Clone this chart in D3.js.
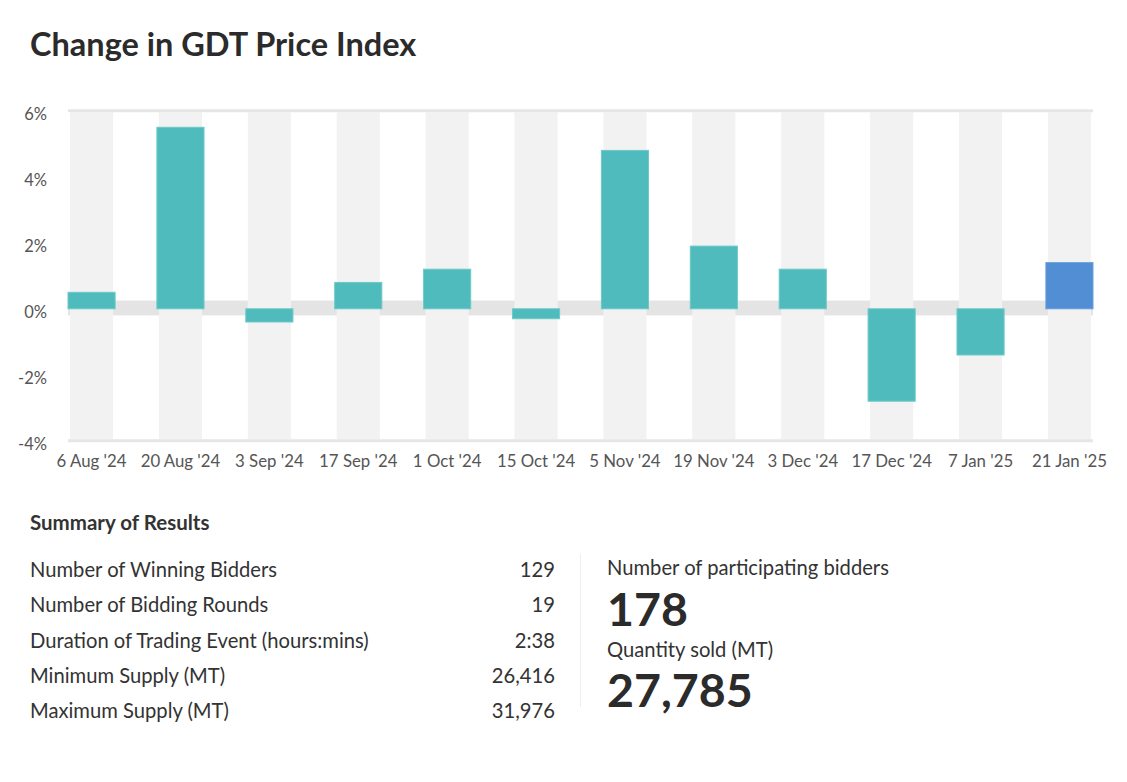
<!DOCTYPE html>
<html>
<head>
<meta charset="utf-8">
<script src="https://cdn.jsdelivr.net/npm/d3@7"></script>
<style>
  body { margin: 0; background: #fff; font-family: Lato, "Open Sans", sans-serif; }
  svg text { font-family: Lato, sans-serif; }
</style>
</head>
<body>
<div id="graf"></div>
<script>
const fechas = ["6 Aug '24", "20 Aug '24", "3 Sep '24", "17 Sep '24", "1 Oct '24", "15 Oct '24",
  "5 Nov '24", "19 Nov '24", "3 Dec '24", "17 Dec '24", "7 Jan '25", "21 Jan '25"]
const cambios = [0.5, 5.5, -0.4, 0.8, 1.2, -0.3, 4.8, 1.9, 1.2, -2.8, -1.4, 1.4]
const yTicks = [6, 4, 2, 0, -2, -4]

const resumenEtiquetas = ["Number of Winning Bidders", "Number of Bidding Rounds",
  "Duration of Trading Event (hours:mins)", "Minimum Supply (MT)", "Maximum Supply (MT)"]
const resumenValores = ["129", "19", "2:38", "26,416", "31,976"]
const destacados = ["Number of participating bidders", "Quantity sold (MT)"]
const destacadosValores = ["178", "27,785"]

const anchoTotal = 1127
const altoTotal = 782

const svg = d3.select("#graf")
  .append("svg")
  .attr("width", anchoTotal)
  .attr("height", altoTotal)

svg.append("text")
  .attr("x", 30)
  .attr("y", 56)
  .attr("font-size", 32.5)
  .attr("font-weight", 700)
  .attr("fill", "#2b2b2b")
  .text("Change in GDT Price Index")

const x = d3.scaleBand().domain(fechas).range([68, 1093]).paddingInner(0.47).paddingOuter(0)
const y = d3.scaleLinear().domain([-4, 6]).range([440.8, 110.8])

// franja gris en el cero
svg.append("rect")
  .attr("x", 68)
  .attr("width", 1025)
  .attr("y", y(0.25))
  .attr("height", y(-0.2) - y(0.25))
  .attr("fill", "#e4e4e4")

// columnas de fondo
svg.selectAll(".col")
  .data(fechas)
  .enter()
  .append("rect")
  .attr("x", (d) => x(d) + 2)
  .attr("width", x.bandwidth() - 4)
  .attr("y", y(6) + 1.5)
  .attr("height", y(-4) - y(6) - 3)
  .attr("fill", "#f2f2f2")

// lineas arriba y abajo
svg.selectAll(".borde")
  .data([6, -4])
  .enter()
  .append("line")
  .attr("x1", 68)
  .attr("x2", 1093)
  .attr("y1", (d) => y(d))
  .attr("y2", (d) => y(d))
  .attr("stroke", "#e6e6e6")
  .attr("stroke-width", 3)

svg.selectAll(".barra")
  .data(cambios)
  .enter()
  .append("rect")
  .attr("x", (d, i) => x(fechas[i]))
  .attr("width", x.bandwidth())
  .attr("y", (d) => y(Math.max(0, d)))
  .attr("height", (d) => Math.abs(y(d) - y(0)))
  .attr("fill", (d, i) => i == cambios.length - 1 ? "#528ed4" : "#4fbbbc")
  .attr("stroke", (d, i) => i == cambios.length - 1 ? "#6a9fdc" : "#6cc9c9")
  .attr("stroke-width", 1)

const ejeY = d3.axisLeft(y).tickValues(yTicks).tickSize(0).tickPadding(0).tickFormat((d) => d + "%")
svg.append("g")
  .attr("transform", "translate(47,3)")
  .call(ejeY)
  .call((g) => g.select(".domain").remove())
  .call((g) => g.selectAll("text").attr("font-size", 16.5).attr("fill", "#555").attr("font-family", "Lato"))

const ejeX = d3.axisBottom(x).tickSize(0).tickPadding(0)
svg.append("g")
  .attr("transform", "translate(0,455.5)")
  .call(ejeX)
  .call((g) => g.select(".domain").remove())
  .call((g) => g.selectAll("text").attr("font-size", 16.8).attr("fill", "#555").attr("font-family", "Lato"))

// resumen
svg.append("text")
  .attr("x", 30)
  .attr("y", 530)
  .attr("font-size", 20.5)
  .attr("font-weight", 700)
  .attr("fill", "#333")
  .text("Summary of Results")

const filas = svg.selectAll(".fila")
  .data(resumenEtiquetas)
  .enter()
  .append("g")
  .attr("transform", (d, i) => `translate(0, ${577.3 + i * 35.1})`)

filas.append("text")
  .attr("x", 30)
  .attr("font-size", 20.2)
  .attr("fill", "#333")
  .text((d) => d)

filas.append("text")
  .attr("x", 555)
  .attr("text-anchor", "end")
  .attr("font-size", 20.2)
  .attr("fill", "#333")
  .text((d, i) => resumenValores[i])

svg.append("line")
  .attr("x1", 580.5)
  .attr("x2", 580.5)
  .attr("y1", 554)
  .attr("y2", 707)
  .attr("stroke", "#eeeeee")
  .attr("stroke-width", 1)

destacados.forEach((d, i) => {
  svg.append("text")
    .attr("x", 607)
    .attr("y", 575 + i * 81.5)
    .attr("font-size", 20.2)
    .attr("fill", "#333")
    .text(d)
  svg.append("text")
    .attr("x", 607)
    .attr("y", 626 + i * 81)
    .attr("font-size", 46.5)
    .attr("font-weight", 700)
    .attr("fill", "#2b2b2b")
    .text(destacadosValores[i])
})
</script>
</body>
</html>
